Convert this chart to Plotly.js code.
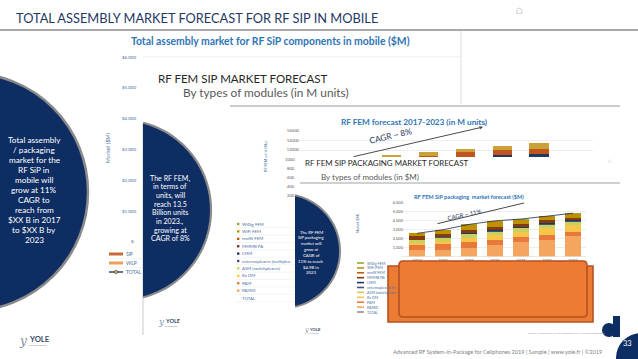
<!DOCTYPE html>
<html><head><meta charset="utf-8">
<script src="https://cdn.plot.ly/plotly-3.0.1.min.js"></script>
<style>html,body{margin:0;padding:0;background:#fff;}#chart{width:638px;height:359px;}</style>
</head><body><div id="chart"></div>
<script>
const W = 638, H = 359;

// ---- RF FEM SiP packaging market forecast ($M) ----
const years = ['2017', '2018', '2019', '2020', '2021', '2022', '2023'];
const pamid   = [700, 750, 950, 1250, 1600, 1900, 2300];
const pam     = [550, 600, 650, 600, 550, 550, 500];
const rxdm    = [300, 400, 500, 600, 650, 700, 750];
const asm     = [350, 350, 400, 350, 350, 350, 350];
const antplex = [0, 50, 50, 100, 100, 150, 100];
const lmm     = [0, 0, 50, 100, 100, 100, 50];
const mmmbpa  = [450, 400, 350, 300, 300, 300, 300];
const mmwfem  = [0, 0, 0, 0, 0, 0, 0];
const wififem = [250, 450, 600, 650, 500, 450, 450];
const wigig   = [0, 0, 50, 50, 50, 50, 50];
const pkgNames = ['PAMiD', 'PAM', 'Rx DM', 'ASM (switchplexers)', 'antennaplexers (multiplexers)', 'LMM', 'MMMB PA', 'mmW FEM', 'WiFi FEM', 'WiGig FEM'];
const pkgColors = ['#f4a660', '#e8793a', '#f6c64a', '#c8d062', '#44546a', '#1f3864', '#843c0c', '#c55a11', '#bf9000', '#9ea33a'];
const pkgTicks = [0, 1000, 2000, 3000, 4000, 5000, 6000];
const pkgTickLabels = ['-', '1,000', '2,000', '3,000', '4,000', '5,000', '6,000'];

// ---- RF FEM forecast 2017-2023 (in M units) ----
const unitsBase = [8300, 8750, 9250, 9750, 10500, 10950, 11200];
const unitsMid  = [900, 950, 1000, 1000, 1050, 1050, 1050];
const unitsTop  = [600, 650, 700, 900, 650, 850, 1250];
const unitTicks = [12000, 14000, 16000];
const unitTickLabels = ['12000', '14000', '16000'];
const unitCutLabels = ['1000', '800', '600', '400', '200'];

// ---- Total assembly market legend (background chart) ----
const bgTicks = ['$6,000', '$5,000', '$4,000', '$3,000', '$2,000', '$1,000', '$-'];
const bgLegend = ['SiP', 'WLP', 'TOTAL'];

function px(x) { return x / W; }
function py(y) { return 1 - y / H; }

const pkgSeries = [pamid, pam, rxdm, asm, antplex, lmm, mmmbpa, mmwfem, wififem, wigig];
const totals = years.map((_, i) => pkgSeries.reduce((s, a) => s + a[i], 0));

const traces = [];
pkgSeries.forEach((vals, k) => {
  traces.push({type: 'bar', x: years, y: vals, name: pkgNames[k], marker: {color: pkgColors[k], line: {width: 0}},
    width: 0.58, xaxis: 'x', yaxis: 'y', hoverinfo: 'skip'});
});
traces.push({type: 'scatter', mode: 'lines', x: years, y: totals, name: 'TOTAL', line: {color: '#1b2a44', width: 0.8},
  xaxis: 'x', yaxis: 'y', hoverinfo: 'skip'});
[[unitsBase, '#1f3864'], [unitsMid, '#c0561b'], [unitsTop, '#c9a23a']].forEach(([vals, c]) => {
  traces.push({type: 'bar', x: years, y: vals, marker: {color: c, line: {width: 0}}, width: 0.52,
    xaxis: 'x2', yaxis: 'y2', hoverinfo: 'skip'});
});

const NAVY = '#0e2d63';
const shapes = [];
const ann = [];
function T(x, y, text, o) {
  o = o || {};
  ann.push(Object.assign({xref: 'paper', yref: 'paper', x: px(x), y: py(y), text: text, showarrow: false,
    xanchor: o.xa || 'left', yanchor: 'middle', borderpad: 0,
    font: {size: o.s || 8, color: o.c || '#333', family: o.f || 'Lato, sans-serif', weight: o.w || 400, style: o.st || 'normal'}}, o.extra || {}));
}
function line(x0, y0, x1, y1, c, w) {
  shapes.push({type: 'line', xref: 'paper', yref: 'paper', x0: px(x0), y0: py(y0), x1: px(x1), y1: py(y1), line: {color: c, width: w}});
}
function rect(x0, y0, x1, y1, fill, lc, lw) {
  shapes.push({type: 'rect', xref: 'paper', yref: 'paper', x0: px(x0), y0: py(y1), x1: px(x1), y1: py(y0), fillcolor: fill, line: {color: lc || fill, width: lw || 0}});
}
function circ(cx, cy, r, fill, lc, lw) {
  shapes.push({type: 'circle', xref: 'paper', yref: 'paper', x0: px(cx - r), x1: px(cx + r), y0: py(cy + r), y1: py(cy - r), fillcolor: fill, line: {color: lc || fill, width: lw || 0}});
}
function clippedCircle(cx, cy, r, xClip, fill, lc, lw) {
  const th = Math.acos((xClip - cx) / r);
  const pts = [];
  const n = 60;
  for (let i = 0; i <= n; i++) { const a = -th + 2 * th * i / n; pts.push([cx + r * Math.cos(a), cy + r * Math.sin(a)]); }
  const d = pts.map((p, i) => (i ? 'L' : 'M') + px(p[0]).toFixed(5) + ',' + py(p[1]).toFixed(5)).join(' ');
  shapes.push({type: 'path', xref: 'paper', yref: 'paper', path: d + ' Z', fillcolor: fill, line: {width: 0}});
  shapes.push({type: 'path', xref: 'paper', yref: 'paper', path: d, fillcolor: 'rgba(0,0,0,0)', line: {color: lc, width: lw}});
}

// header
T(15, 18, 'TOTAL ASSEMBLY MARKET FORECAST FOR RF SIP IN MOBILE', {s: 12.8, c: '#1f3864'});
T(519, 10, '⌂', {s: 9, c: '#c0c0c0', xa: 'center'});
line(0, 30, 638, 30, '#8c8c8c', 1.6);
line(461, 31, 461, 104, '#d6d6d6', 0.8);
T(270, 41, 'Total assembly market for RF SiP components in mobile ($M)', {s: 10.4, c: '#2e75b6', w: 700, xa: 'center'});
line(143, 57, 461, 57, '#e3e3e3', 0.6);
bgTicks.forEach((t, i) => T(137, 57 + i * 30.8, t, {s: 4.5, c: '#4a6fa5', xa: 'right'}));
T(108, 148, 'Market ($M)', {s: 5.5, c: '#4a6fa5', xa: 'center', extra: {textangle: -90}});
// bg legend
rect(109, 252.5, 123, 255.5, '#c8693a'); T(125, 254, bgLegend[0], {s: 5, c: '#4a6fa5'});
rect(109, 261.5, 123, 264.5, '#f0a055'); T(125, 263, bgLegend[1], {s: 5, c: '#4a6fa5'});
line(109, 272, 123, 272, '#1f3864', 1.4); circ(116, 272, 1.8, '#d9a030', '#1f3864', 0.5); T(125, 272, bgLegend[2], {s: 5, c: '#4a6fa5'});
line(107, 258.5, 142, 258.5, '#e6e6e6', 0.5); line(107, 267.5, 142, 267.5, '#e6e6e6', 0.5);

// left big circle
circ(-31, 192, 119, NAVY, '#8a8a8a', 2.5);
['Total assembly', '/ packaging', 'market for the', 'RF SiP in', 'mobile will', 'grow at 11%', 'CAGR to', 'reach from', '$XX B in 2017', 'to $XX B by', '2023']
  .forEach((t, i) => T(34, 140 + i * 10, t, {s: 8.2, c: '#ffffff', xa: 'center'}));

// middle slide
line(143, 124, 143, 335, '#bdbdbd', 0.8);
clippedCircle(121, 210, 90, 143, NAVY, '#8a8a8a', 2.2);
['The RF FEM,', 'in terms of', 'units, will', 'reach 13.5', 'Billion units', 'in 2023.,', 'growing at', 'CAGR of 8%']
  .forEach((t, i) => T(170, 178 + i * 8.7, t, {s: 7.1, c: '#ffffff', xa: 'center'}));
T(157, 78, 'RF FEM SIP MARKET FORECAST', {s: 11.5, c: '#262626'});
T(182, 93, 'By types of modules (in M units)', {s: 11.8, c: '#595959'});
line(230, 106, 620, 106, '#8c8c8c', 0.9);
// middle legend (same module list)
const midLegend = ['WiGig FEM', 'WiFi FEM', 'mmW FEM', 'MMMB PA', 'LMM', 'antennaplexers (multiplex', 'ASM (switchplexers)', 'Rx DM', 'PAM', 'PAMiD', 'TOTAL'];
const revColors = pkgColors.slice().reverse();
midLegend.forEach((t, i) => {
  const y = 224 + i * 7.4;
  if (i < 10) rect(237, y - 1.2, 239.4, y + 1.2, revColors[i]);
  T(241, y, t, {s: 4.3, c: '#4a6fa5'});
  line(236, y + 3.7, 300, y + 3.7, '#e4e4e4', 0.4);
});

// third chart (RF FEM units)
T(414, 122, 'RF FEM forecast 2017-2023 (in M units)', {s: 8.2, c: '#2e75b6', w: 700, xa: 'center'});
T(265, 157, 'RF FEM units (Mu)', {s: 3.8, c: '#4a6fa5', xa: 'center', extra: {textangle: -90}});
unitCutLabels.forEach((t, i) => T(296, 159 + i * 9.1, t, {s: 4.2, c: '#595959', xa: 'right'}));
T(390, 136, 'CAGR ~ 8%', {s: 8.4, c: '#1f3864', xa: 'center', extra: {textangle: -13}});
ann.push({xref: 'paper', yref: 'paper', x: px(483), y: py(127), ax: -131, ay: 30, axref: 'pixel', ayref: 'pixel',
  showarrow: true, arrowhead: 2, arrowsize: 0.7, arrowwidth: 1, arrowcolor: '#4d4d4d', text: ''});

// fourth slide
T(304, 163, 'RF FEM SIP PACKAGING MARKET FORECAST', {s: 7.9, c: '#262626'});
T(320, 177, 'By types of modules (in $M)', {s: 8, c: '#595959'});
line(300, 183, 620, 183, '#8c8c8c', 0.8);
T(610, 161, '⌂', {s: 5, c: '#cccccc', xa: 'center'});
T(469, 196, 'RF FEM SiP packaging  market forecast ($M)', {s: 5.6, c: '#2e75b6', w: 700, xa: 'center'});
T(357, 224, 'Market ($M)', {s: 3.5, c: '#4a6fa5', xa: 'center', extra: {textangle: -90}});
T(464, 214, 'CAGR ~ 11%', {s: 6, c: '#1f3864', xa: 'center', extra: {textangle: -12}});
ann.push({xref: 'paper', yref: 'paper', x: px(524), y: py(203), ax: -88, ay: 21, axref: 'pixel', ayref: 'pixel',
  showarrow: true, arrowhead: 0, arrowwidth: 0.9, arrowcolor: '#333333', text: ''});
clippedCircle(283, 251, 57, 295, NAVY, '#8a8a8a', 2);
['The RF FEM', 'SiP packaging', 'market will', 'grow at', 'CAGR of', '11% to reach', '$4.9B in', '2023']
  .forEach((t, i) => T(311, 232 + i * 5.85, t, {s: 4.3, c: '#ffffff', xa: 'center'}));
// fourth legend
const pkgLegend = pkgNames.slice().reverse().concat(['TOTAL']);
pkgLegend.forEach((t, i) => {
  const y = 263 + i * 4.9;
  line(357, y, 364, y, i < 10 ? revColors[i] : '#1b2a44', i < 10 ? 1.6 : 0.8);
  T(366, y, t.length > 17 ? t.slice(0, 17) : t, {s: 3.6, c: '#4a6fa5'});
});
// orange boxes
rect(388, 266, 593, 322, '#ec7b34', '#b45222', 1.6);
shapes.push({type: 'path', xref: 'paper', yref: 'paper', fillcolor: '#ee7b33', line: {color: '#b45222', width: 1.6},
  path: `M${px(403)},${py(261)} L${px(583)},${py(261)} Q${px(587)},${py(261)} ${px(587)},${py(265)} L${px(587)},${py(313)} Q${px(587)},${py(317)} ${px(583)},${py(317)} L${px(403)},${py(317)} Q${px(399)},${py(317)} ${px(399)},${py(313)} L${px(399)},${py(265)} Q${px(399)},${py(261)} ${px(403)},${py(261)} Z`});

// logos
function logo(x, y, s) {
  T(x, y, 'y', {s: 11 * s, c: '#8090a8', f: 'DejaVu Serif, serif', st: 'italic'});
  T(x + 9 * s, y - 1.5 * s, 'YOLE', {s: 7 * s, c: '#3a4d6b', w: 700});
  T(x + 9 * s, y + 4.5 * s, 'développement', {s: 2.3 * s, c: '#8a8a8a'});
}
logo(18, 341, 1.1);
logo(157, 322, 0.8);
logo(303, 330, 0.6);

// footer
T(527, 333, 'Source: Advanced RF SiP for Cellphones 2019, Yole Développement', {s: 2.6, c: '#9a9a9a'});
circ(609, 330, 7, NAVY);
rect(613, 316, 620, 337, NAVY);
circ(641, 358, 25, NAVY);
T(627, 343, '33', {s: 7.5, c: '#ffffff', xa: 'center'});
T(603, 351, 'Advanced RF System-in-Package for Cellphones 2019 | Sample | www.yole.fr | ©2019', {s: 5.6, c: '#808080', xa: 'right'});

const layout = {
  width: W, height: H, margin: {l: 0, r: 0, t: 0, b: 0}, paper_bgcolor: '#ffffff', plot_bgcolor: 'rgba(0,0,0,0)',
  showlegend: false, barmode: 'stack', font: {family: 'Lato, sans-serif'},
  xaxis: {domain: [px(404), px(586)], anchor: 'y', type: 'category', tickfont: {size: 4, color: '#595959'},
    showline: true, linecolor: '#d0d0d0', linewidth: 0.5, ticks: '', tickangle: 0, showgrid: false},
  yaxis: {domain: [py(256.5), py(203)], anchor: 'x', range: [0, 6000], tickvals: pkgTicks, ticktext: pkgTickLabels,
    tickfont: {size: 4, color: '#595959'}, gridcolor: '#dedede', gridwidth: 0.5, zeroline: false, showline: false, ticks: ''},
  xaxis2: {domain: [px(300), px(593)], anchor: 'y2', type: 'category', range: [-0.5, 7.47], showticklabels: false, showgrid: false, zeroline: false},
  yaxis2: {domain: [py(157), py(131)], anchor: 'x2', range: [10526, 16000], tickvals: unitTicks, ticktext: unitTickLabels,
    tickfont: {size: 4.2, color: '#595959'}, gridcolor: '#dedede', gridwidth: 0.5, zeroline: false, ticks: ''},
  shapes: shapes, annotations: ann
};
Plotly.newPlot('chart', traces, layout, {staticPlot: true, displayModeBar: false});
</script></body></html>
